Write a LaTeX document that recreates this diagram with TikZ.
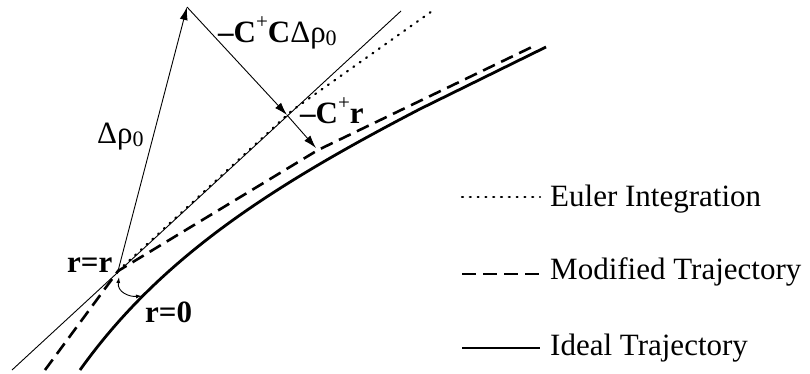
\documentclass[tikz,border=0pt]{standalone}
\usepackage{fontspec}
\setmainfont{Liberation Serif}
\usetikzlibrary{arrows.meta}
\newcommand{\lowsub}[1]{\raisebox{-0.1em}{\fontsize{22}{22}\selectfont #1}}
\newcommand{\hisup}[1]{\raisebox{0.42em}{\fontsize{21}{21}\selectfont #1}}
\begin{document}
\begin{tikzpicture}[x=1pt,y=-1pt,
  thinl/.style={line width=0.9pt},
  ideal/.style={line width=2.8pt},
  modif/.style={line width=2.6pt, dash pattern=on 13pt off 7pt},
  euler/.style={line width=2.2pt, line cap=round, dash pattern=on 1pt off 6.8pt},
  bigarrow/.style={thinl, -{Latex[length=13pt,width=8pt]}},
  smallarrows/.style={thinl, {Latex[length=6pt,width=4pt]}-{Latex[length=6pt,width=4pt]}},
  lbl/.style={font=\fontsize{31}{36}\selectfont, inner sep=0pt, anchor=base west},
]
\useasboundingbox (0,0) rectangle (810,373);
% key points
\coordinate (P) at (118,271);
\coordinate (A) at (187,7);
\coordinate (X) at (287,115);
\coordinate (Q) at (316,148);
\coordinate (T1) at (12,370);
\coordinate (T2) at (401,11);
\coordinate (D1) at (292,110.5);
\coordinate (D2) at (435,9);
\coordinate (M0) at (45,370);
\coordinate (M1) at (318,150);
\coordinate (M2) at (534,46);
\coordinate (S0) at (80,370);
\coordinate (S1) at (420,109);
\coordinate (S2) at (546,47);
% thin tangent line
\draw[thinl] (T1) -- (T2);
% Euler integration (dotted)
\draw[euler] (P) -- (D1) -- (D2);
% modified trajectory (dashed)
\draw[modif] (M0) -- (P) -- (M1) -- (M2);
% ideal trajectory (solid)
\draw[ideal] (S0) .. controls (160,258) and (270,187) .. (S1) -- (S2);
% vectors
\draw[bigarrow] (P) -- (A);
\draw[bigarrow] (A) -- (X);
\draw[bigarrow] (X) -- (Q);
% angle arc
\coordinate (R1) at (119,277);
\coordinate (R2) at (142,296);
\draw[smallarrows] (R1) .. controls (117,292) and (129,297) .. (R2);
% labels
\node[lbl] (ldr) at (97,143) {Δρ\lowsub{0}};
\node[lbl] (lccd) at (218,42) {\textbf{–C}\hisup{+}\textbf{C}Δρ\lowsub{0}};
\node[lbl] (lcr) at (300,123) {\textbf{–C}\hisup{+}\textbf{r}};
\node[lbl] (lrr) at (67,272) {\textbf{r=r}};
\node[lbl] (lr0) at (145,322) {\textbf{r=0}};
% legend
\coordinate (E1) at (462,197); \coordinate (E2) at (540,197);
\coordinate (F1) at (462,274); \coordinate (F2) at (540,274);
\coordinate (G1) at (462,348); \coordinate (G2) at (540,348);
\draw[euler] (E1) -- (E2);
\draw[modif, dash pattern=on 14pt off 7pt] (F1) -- (F2);
\draw[ideal, line width=2.4pt] (G1) -- (G2);
\node[lbl] (le) at (550,206) {Euler Integration};
\node[lbl] (lm) at (550,279) {Modified Trajectory};
\node[lbl] (li) at (550,355) {Ideal Trajectory};
\end{tikzpicture}
\end{document}
